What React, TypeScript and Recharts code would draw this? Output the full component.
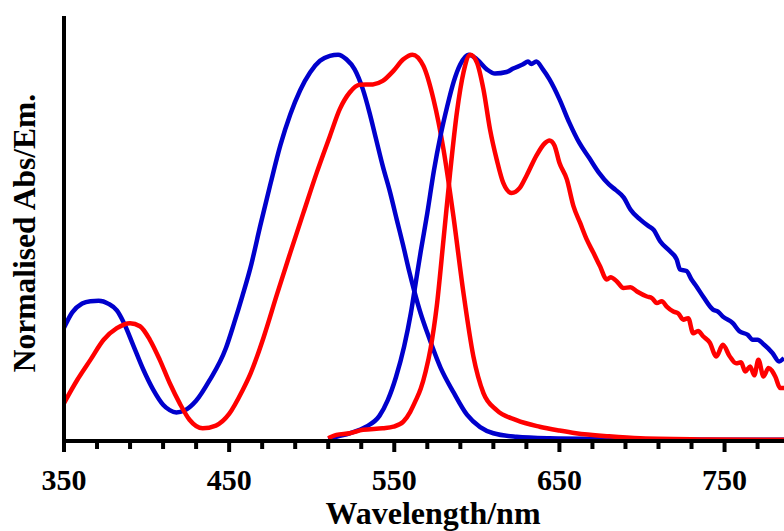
import { LineChart, Line, XAxis, YAxis } from 'recharts';

// wavelength (nm) and normalised intensity for each trace
const blueAbsNm = [350, 355, 361, 366, 371, 377, 382, 386, 392, 398, 404, 410, 414, 418, 423, 430, 438, 448, 453, 458, 463, 469, 475, 481, 487, 493, 499, 505, 511, 516, 521, 526, 531, 535, 539, 543, 547.5, 551.5, 555.5, 559, 562, 566, 570, 578, 586, 594, 602, 610, 624, 644, 680, 720, 786];
const blueAbsVal = [0.293, 0.333, 0.356, 0.362, 0.363, 0.355, 0.338, 0.308, 0.247, 0.185, 0.133, 0.094, 0.08, 0.074, 0.079, 0.104, 0.156, 0.24, 0.305, 0.375, 0.45, 0.56, 0.665, 0.765, 0.845, 0.908, 0.954, 0.984, 0.997, 1.0, 0.988, 0.962, 0.91, 0.85, 0.781, 0.712, 0.643, 0.573, 0.504, 0.44, 0.39, 0.33, 0.28, 0.19, 0.125, 0.068, 0.036, 0.02, 0.011, 0.007, 0.005, 0.004, 0.003];

const redAbsNm = [350, 358, 366, 374, 382, 390, 396, 402, 408, 414, 420, 426, 434, 442, 450, 458, 463, 467, 471, 479, 487, 495, 503, 511, 517, 523, 529, 537, 543, 549.5, 555.5, 561, 567.6, 573.7, 579.8, 585.8, 591.9, 597.9, 604, 612, 624, 638, 650, 660, 680, 699, 740, 786];
const redAbsVal = [0.098, 0.158, 0.21, 0.262, 0.292, 0.305, 0.297, 0.262, 0.21, 0.15, 0.098, 0.055, 0.033, 0.04, 0.07, 0.13, 0.175, 0.22, 0.27, 0.38, 0.487, 0.591, 0.694, 0.789, 0.859, 0.902, 0.922, 0.923, 0.932, 0.958, 0.988, 1.0, 0.971, 0.885, 0.755, 0.582, 0.383, 0.219, 0.124, 0.08, 0.054, 0.037, 0.027, 0.02, 0.012, 0.007, 0.004, 0.003];

const blueEmNm = [510, 516, 523, 533, 541, 546, 551, 556, 560, 563, 566, 570, 574, 578, 582, 586, 590, 595, 600, 606, 611, 618, 622, 628, 631, 633, 636, 640, 644, 650, 656, 662, 668, 674, 680, 684, 689, 693, 699, 704, 707, 711, 717, 721, 723, 727, 730, 733, 737, 743, 746, 749, 755, 759, 764, 767, 770, 774, 779, 783, 786];
const blueEmVal = [0.005, 0.012, 0.02, 0.037, 0.065, 0.105, 0.165, 0.245, 0.33, 0.41, 0.49, 0.59, 0.7, 0.79, 0.865, 0.93, 0.975, 1.0, 0.988, 0.962, 0.951, 0.955, 0.964, 0.975, 0.982, 0.976, 0.982, 0.962, 0.936, 0.885, 0.824, 0.772, 0.733, 0.694, 0.664, 0.65, 0.63, 0.599, 0.573, 0.556, 0.547, 0.517, 0.491, 0.47, 0.444, 0.44, 0.418, 0.4, 0.374, 0.34, 0.335, 0.322, 0.305, 0.284, 0.275, 0.262, 0.262, 0.249, 0.228, 0.206, 0.215];

const redEmNm = [510, 515, 523, 531, 543, 549.5, 555.5, 559.6, 563, 566, 569, 572, 575.7, 579.8, 583.8, 587.9, 591.9, 596, 600, 604, 608, 612, 616, 621, 626, 630, 636, 641, 644, 647, 650, 654.5, 658.5, 662.5, 666.6, 670.6, 674.6, 678.7, 681, 684.8, 688.8, 693, 697, 703, 706, 709, 712, 715, 719, 722, 725, 728, 731, 734, 737, 741, 745, 749, 753, 757, 760, 762.5, 765.5, 768, 770.5, 773.6, 776.6, 780.7, 783.7, 786];
const redEmVal = [0.007, 0.016, 0.02, 0.029, 0.033, 0.037, 0.05, 0.075, 0.105, 0.135, 0.18, 0.24, 0.348, 0.521, 0.694, 0.85, 0.954, 1.0, 0.98, 0.91, 0.806, 0.729, 0.668, 0.642, 0.655, 0.686, 0.738, 0.77, 0.778, 0.765, 0.72, 0.677, 0.608, 0.565, 0.521, 0.487, 0.452, 0.418, 0.424, 0.413, 0.396, 0.398, 0.387, 0.374, 0.37, 0.357, 0.362, 0.348, 0.335, 0.33, 0.314, 0.318, 0.279, 0.285, 0.271, 0.255, 0.219, 0.249, 0.22, 0.201, 0.204, 0.18, 0.193, 0.17, 0.21, 0.167, 0.189, 0.167, 0.137, 0.137];

const xTicks = [350, 370, 390, 410, 430, 450, 470, 490, 510, 530, 550, 570, 590, 610, 630, 650, 670, 690, 710, 730, 750, 770];
const majorTicks = [350, 450, 550, 650, 750];

const toPoints = (nm: number[], vals: number[]) => nm.map((x, i) => ({ nm: x, v: vals[i] }));

const FONT = '"Liberation Serif", "Times New Roman", serif';
const BLUE = '#0000cc';
const RED = '#ff0000';

const WaveTick = (props: any) => {
  const { x, y, payload } = props;
  const major = majorTicks.includes(payload.value);
  return (
    <g>
      <line x1={x} x2={x} y1={y} y2={y + (major ? 11 : 8)} stroke="#000" strokeWidth={4} />
      {major && (
        <text x={x} y={y + 49} textAnchor="middle" fontFamily={FONT} fontWeight="bold" fontSize={30} fill="#000">
          {payload.value}
        </text>
      )}
    </g>
  );
};

const XTitle = () => (
  <text x={433} y={524} textAnchor="middle" fontFamily={FONT} fontWeight="bold" fontSize={32} fill="#000">
    Wavelength/nm
  </text>
);

const YTitle = () => (
  <text x={35} y={233} transform="rotate(-90, 35, 233)" textAnchor="middle" fontFamily={FONT} fontWeight="bold" fontSize={31.5} fill="#000">
    Normalised Abs/Em.
  </text>
);

export default function App() {
  const series = [
    { key: 'blueAbs', data: toPoints(blueAbsNm, blueAbsVal), color: BLUE },
    { key: 'redAbs', data: toPoints(redAbsNm, redAbsVal), color: RED },
    { key: 'blueEm', data: toPoints(blueEmNm, blueEmVal), color: BLUE },
    { key: 'redEm', data: toPoints(redEmNm, redEmVal), color: RED },
  ];

  return (
    <div style={{ position: 'absolute', left: 0, top: 0, width: 784, height: 531, background: '#fff' }}>
      <LineChart width={784} height={531} margin={{ top: 16, right: 0, left: 0, bottom: 0 }}>
        <XAxis
          type="number"
          dataKey="nm"
          domain={[350, 786]}
          allowDataOverflow
          ticks={xTicks}
          interval={0}
          tickLine={false}
          tickSize={0}
          tickMargin={0}
          tick={<WaveTick />}
          height={90}
          axisLine={{ stroke: '#000', strokeWidth: 4 }}
          label={<XTitle />}
        />
        <YAxis
          type="number"
          domain={[0, 1.1]}
          allowDataOverflow
          tick={false}
          tickLine={false}
          width={64}
          axisLine={{ stroke: '#000', strokeWidth: 4 }}
          label={<YTitle />}
        />
        {series.map((s) => (
          <Line
            key={s.key}
            data={s.data}
            dataKey="v"
            type="monotone"
            stroke={s.color}
            strokeWidth={4.5}
            strokeLinejoin="round"
            dot={false}
            activeDot={false}
            isAnimationActive={false}
          />
        ))}
      </LineChart>
    </div>
  );
}
